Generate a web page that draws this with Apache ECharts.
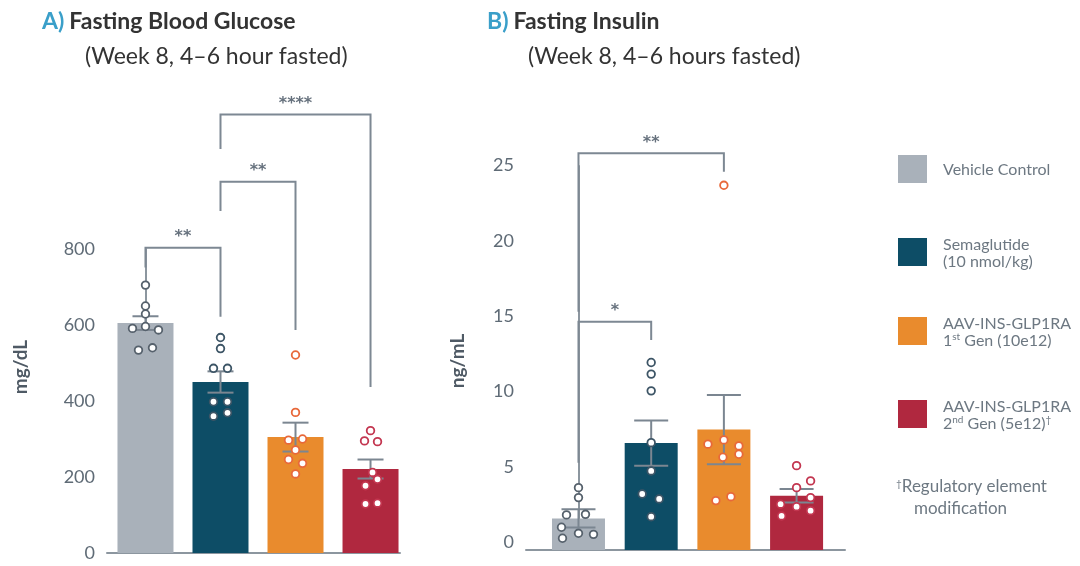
<!DOCTYPE html>
<html>
<head>
<meta charset="utf-8">
<title>Fasting Blood Glucose / Fasting Insulin</title>
<script src="https://cdn.jsdelivr.net/npm/echarts@6/dist/echarts.min.js"></script>
<style>
  html, body { margin: 0; padding: 0; background: #fff; }
  #main { width: 1080px; height: 566px; }
</style>
</head>
<body>
<div id="main"></div>
<script>
// groups (legend order)
var groupLabels = [
  'Vehicle Control',
  'Semaglutide\n(10 nmol/kg)',
  'AAV-INS-GLP1RA\n1{sup|st} Gen (10e12)',
  'AAV-INS-GLP1RA\n2{sup|nd} Gen (5e12){sup|†}'
];
var footnoteLines = ['{sup|†}Regulatory element', 'modification'];

// A) fasting blood glucose, mg/dL
var glucoseTicks = [0, 200, 400, 600, 800];
var glucoseMean = [605, 450, 305, 221];
var glucoseSem = [18, 28, 38, 25];
var glucosePoints = [
  [705, 650, 629, 591, 596, 587, 534, 540],
  [567, 538, 486, 486, 398, 398, 360, 369],
  [521, 370, 297, 300, 271, 246, 236, 208],
  [322, 295, 293, 212, 177, 194, 129, 131]
];
// [from group, to group, top, left end, right end]
var glucoseBrackets = [
  [0, 1, 803, 751, 622],
  [1, 2, 977, 900, 587],
  [1, 3, 1154, 1063, 437]
];
var glucoseStars = ['**', '**', '****'];

// B) fasting insulin, ng/mL
var insulinTicks = [0, 5, 10, 15, 20, 25];
var insulinMean = [2.1, 7.1, 8.0, 3.6];
var insulinSem = [0.6, 1.5, 2.3, 0.45];
var insulinPoints = [
  [4.14, 3.48, 2.33, 2.37, 1.51, 0.78, 1.11, 1.04],
  [12.45, 11.68, 10.57, 7.13, 5.25, 3.72, 3.39, 2.21],
  [24.22, 7.03, 7.31, 6.91, 6.16, 6.36, 3.28, 3.54],
  [5.6, 4.59, 4.14, 3.04, 2.88, 3.48, 2.61, 2.26]
];
var insulinBrackets = [
  [0, 2, 26.34, 15.82, 25.12],
  [0, 1, 15.16, 5.8, 13.94]
];
var insulinStars = ['**', '*'];

// horizontal spread of the dots (px)
var glucoseJitter = [
  [0, 0, 0, -13, 0, 13, -7, 7],
  [0, 0, -7, 7, -7, 7, -7, 7],
  [0, 0, -7, 7, 0, -7, 7, 0],
  [0, -6, 7, 2, -5, 7, -5, 7]
];
var insulinJitter = [
  [0, 0, -12, 7, -17, -16, 0, 15],
  [0, 0, 0, 0, 0, -9, 8, 0],
  [0, -16, 0, 15, -1, 15, -8, 7],
  [0, 14, 0, -16, 0, 14, 14, -15]
];

var barColors = ['#a9b1ba', '#0d4d66', '#e98b2d', '#b0283f'];
var dotColors = ['#56616c', '#3d5566', '#e8683a', '#c33650'];
var axisColor = '#8c969f';
var font = 'Lato, "Open Sans", sans-serif';

function barData(means) {
  return means.map(function (v, i) { return [i, v]; });
}
function errData(means, sems) {
  return means.map(function (v, i) { return [i, v, sems[i]]; });
}
function dotData(points, jitter) {
  var out = [];
  points.forEach(function (arr, g) {
    arr.forEach(function (v, k) { out.push([g, v, jitter[g][k]]); });
  });
  return out;
}

function renderErr(capHalf) {
  return function (params, api) {
    var g = api.value(0), m = api.value(1), s = api.value(2);
    var hi = api.coord([g, m + s]);
    var lo = api.coord([g, m - s]);
    var x = hi[0];
    function st() { return { stroke: '#7b8691', lineWidth: 2 }; }
    return {
      type: 'group',
      children: [
        { type: 'line', shape: { x1: x, y1: hi[1], x2: x, y2: lo[1] }, style: st() },
        { type: 'line', shape: { x1: x - capHalf, y1: hi[1], x2: x + capHalf, y2: hi[1] }, style: st() },
        { type: 'line', shape: { x1: x - capHalf, y1: lo[1], x2: x + capHalf, y2: lo[1] }, style: st() }
      ]
    };
  };
}

function renderDot(params, api) {
  var g = api.value(0);
  var p = api.coord([g, api.value(1)]);
  return {
    type: 'circle',
    shape: { cx: p[0] + api.value(2), cy: p[1], r: 3.8 },
    style: { fill: '#fff', stroke: dotColors[g], lineWidth: 1.8 }
  };
}

function renderBracket(stars) {
  return function (params, api) {
    var a = api.value(0), b = api.value(1), top = api.value(2);
    var p1 = api.coord([a, api.value(3)]);
    var p2 = api.coord([a, top]);
    var p3 = api.coord([b, top]);
    var p4 = api.coord([b, api.value(4)]);
    return {
      type: 'group',
      children: [
        { type: 'polyline', shape: { points: [p1, p2, p3, p4] },
          style: { stroke: '#7d8893', lineWidth: 2, fill: 'none' } },
        { type: 'text', x: (p2[0] + p3[0]) / 2, y: p2[1] - 11,
          style: { text: stars[params.dataIndex], fill: '#66717d',
                   font: 'bold 16px "DejaVu Sans", sans-serif', align: 'center', verticalAlign: 'middle' } }
      ]
    };
  };
}

function panelSeries(idx, means, sems, points, jitter, brackets, stars, barW, capHalf) {
  return [
    { type: 'bar', xAxisIndex: idx, yAxisIndex: idx, barWidth: barW,
      data: barData(means),
      itemStyle: { color: function (p) { return barColors[p.dataIndex]; } } },
    { type: 'custom', xAxisIndex: idx, yAxisIndex: idx, clip: false,
      renderItem: renderErr(capHalf), data: errData(means, sems), z: 3 },
    { type: 'custom', xAxisIndex: idx, yAxisIndex: idx, clip: false,
      renderItem: renderDot, data: dotData(points, jitter), z: 4 },
    { type: 'custom', xAxisIndex: idx, yAxisIndex: idx, clip: false,
      renderItem: renderBracket(stars), data: brackets, z: 5 }
  ];
}

var supStyle = { fontSize: 10, verticalAlign: 'top', fill: '#6d7882', fontFamily: 'Lato' };
var legendItems = [];
var legendTop = [155, 238, 317, 400];
groupLabels.forEach(function (name, i) {
  legendItems.push({ type: 'rect', left: 898, top: legendTop[i],
    shape: { width: 29, height: 28 }, style: { fill: barColors[i] } });
  legendItems.push({ type: 'text', x: 943, y: legendTop[i] + 15,
    style: { text: name, font: '16px ' + font, fill: '#6d7882', lineHeight: 17,
             verticalAlign: 'middle', rich: { sup: supStyle } } });
});
legendItems.push({ type: 'text', x: 896, y: 487,
  style: { text: footnoteLines[0], font: '17px ' + font, fill: '#6d7882',
           verticalAlign: 'middle', rich: { sup: supStyle } } });
legendItems.push({ type: 'text', x: 914, y: 509,
  style: { text: footnoteLines[1], font: '17px ' + font, fill: '#6d7882', verticalAlign: 'middle' } });
legendItems.push({ type: 'text', x: 21, y: 367, rotation: Math.PI / 2,
  style: { text: 'mg/dL', font: 'bold 19px ' + font, fill: '#4f5a65', align: 'center', verticalAlign: 'middle' } });
legendItems.push({ type: 'text', x: 458, y: 361, rotation: Math.PI / 2,
  style: { text: 'ng/mL', font: 'bold 19px ' + font, fill: '#4f5a65', align: 'center', verticalAlign: 'middle' } });

var titleRich = { a: { color: '#3a9fc9', fontWeight: 'bold', fontSize: 23, fontFamily: 'Lato' },
                  t: { color: '#333', fontWeight: 'bold', fontSize: 23, fontFamily: 'Lato' } };
var subStyle = { color: '#333', fontWeight: 'normal', fontSize: 23, fontFamily: 'Lato' };

function yAxisFor(idx, ticks) {
  var step = ticks[1] - ticks[0];
  return {
    type: 'value', gridIndex: idx, min: ticks[0],
    max: idx === 0 ? ticks[ticks.length - 1] : 25.5,
    interval: step,
    axisLine: { show: true, lineStyle: { color: axisColor, width: 2 } },
    axisTick: { show: false },
    splitLine: { show: false },
    axisLabel: {
      color: '#5f6b76', fontSize: 18, fontFamily: 'Lato', margin: 12,
      verticalAlign: idx === 0 ? 'middle' : 'bottom', lineHeight: 16,
      formatter: function (v) { return ticks.indexOf(v) >= 0 ? String(v) : ''; }
    }
  };
}
function xAxisFor(idx, min, max) {
  return {
    type: 'value', gridIndex: idx, min: min, max: max,
    axisLine: { show: true, onZero: false, lineStyle: { color: axisColor, width: 2 } },
    axisTick: { show: false }, axisLabel: { show: false }, splitLine: { show: false }
  };
}

var chart = echarts.init(document.getElementById('main'));
chart.setOption({
  animation: false,
  backgroundColor: '#fff',
  title: [
    { text: '{a|A)} {t|Fasting Blood Glucose}', left: 37, top: 5, textStyle: { rich: titleRich } },
    { text: '(Week 8, 4–6 hour fasted)', left: 80, top: 40, textStyle: subStyle },
    { text: '{a|B)} {t|Fasting Insulin}', left: 482, top: 5, textStyle: { rich: titleRich } },
    { text: '(Week 8, 4–6 hours fasted)', left: 523, top: 40, textStyle: subStyle }
  ],
  grid: [
    { left: 107, top: 249, width: 293, height: 304 },
    { left: 526, top: 166, width: 319, height: 384 }
  ],
  xAxis: [xAxisFor(0, -0.513, 3.393), xAxisFor(1, -0.722, 3.666)],
  yAxis: [yAxisFor(0, glucoseTicks), yAxisFor(1, insulinTicks)],
  graphic: legendItems,
  series: [].concat(
    panelSeries(0, glucoseMean, glucoseSem, glucosePoints, glucoseJitter, glucoseBrackets, glucoseStars, 56, 13),
    panelSeries(1, insulinMean, insulinSem, insulinPoints, insulinJitter, insulinBrackets, insulinStars, 53, 17)
  )
});
</script>
</body>
</html>
